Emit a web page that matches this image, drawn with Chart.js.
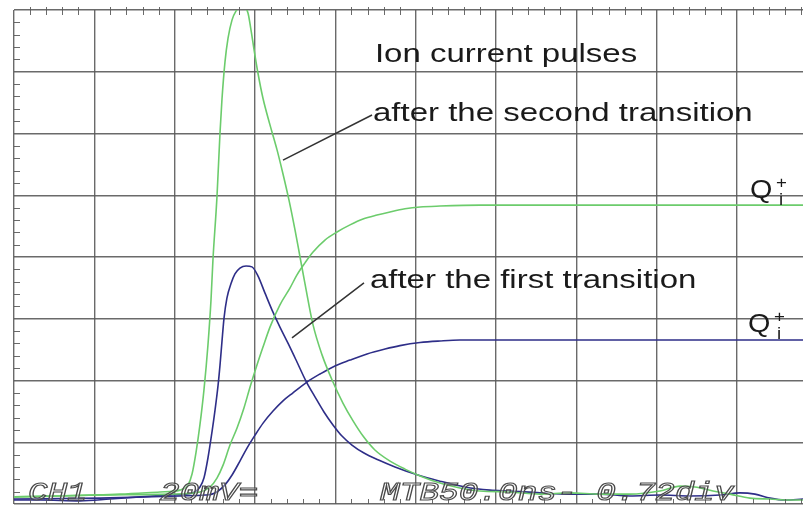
<!DOCTYPE html>
<html><head><meta charset="utf-8">
<script src="https://cdn.jsdelivr.net/npm/chart.js@4.4.1/dist/chart.umd.min.js"></script>
<style>html,body{margin:0;padding:0;background:#fff;overflow:hidden}</style>
</head><body>
<canvas id="c" width="803" height="506"></canvas>
<script>
// Oscilloscope: 50 ns/div horizontally, 20 mV/div vertically
const xTicks = [0, 50, 100, 150, 200, 250, 300, 350, 400, 450];
const yTicks = [0, 20, 40, 60, 80, 100, 120, 140, 160];

// Ion current pulse after the second transition (green)
const pulse2T = [0, 28.6, 66, 90.9, 103.3, 108.3, 110.8, 113.3, 115.7, 118.2, 120.7, 122.6, 123.8, 126.3, 128.2, 129.4, 131.3, 133.2, 135.7, 138.2, 140.6, 143.1, 145.6, 147.5, 149.4, 151.8, 154.9, 159.3, 163.7, 167.4, 171.1, 174.9, 178.0, 181.1, 186.1, 191.7, 198.5, 204.7, 211.0, 217.2, 224.6, 234.0, 243.3, 252.7, 265.1, 277.5, 290.0, 308.7, 327.3, 346.0, 364.7, 383.3, 402.0, 414.5, 423.8, 435.0, 445.6, 458.0, 470.5, 482.9, 491];
const pulse2V = [2.3, 2.6, 3.2, 3.9, 4.5, 6.2, 9.7, 16.8, 25.6, 36.9, 51.5, 66.1, 79.0, 99.4, 120.2, 130.9, 143.2, 150.9, 156.8, 159.7, 161.0, 161.0, 159.0, 153.5, 147.1, 139.6, 131.5, 122.8, 114.7, 106.9, 98.5, 88.7, 80.0, 71.3, 58.0, 48.3, 39.5, 32.7, 26.9, 22.0, 17.5, 13.9, 11.3, 9.1, 6.8, 5.2, 4.2, 3.9, 3.2, 3.6, 3.2, 3.2, 4.2, 5.8, 5.5, 4.2, 3.2, 1.9, 1.6, 1.3, 1.3];

// Ion current pulse after the first transition (blue)
const pulse1T = [0, 16.2, 41.1, 59.7, 78.4, 97.1, 106.4, 112.6, 115.7, 118.2, 120.7, 123.2, 125.1, 127.0, 128.2, 129.4, 130.7, 132.5, 135.0, 137.5, 140.6, 144.4, 148.1, 151.8, 156.2, 160.6, 165.5, 170.5, 176.1, 181.7, 187.3, 192.9, 198.5, 204.1, 210.3, 217.8, 226.5, 237.1, 249.5, 265.1, 280.7, 296.2, 308.7, 327.3, 346.0, 364.7, 383.3, 402.0, 420.7, 439.3, 451.8, 461.1, 470.5, 479.8, 491];
const pulse1V = [1.3, 1.3, 1.0, 1.6, 2.3, 2.9, 3.2, 3.9, 5.5, 8.4, 14.9, 23.3, 30.4, 38.5, 45.0, 52.5, 60.2, 66.7, 71.3, 74.5, 76.4, 77.1, 76.8, 73.9, 68.3, 62.8, 57.3, 52.1, 46.0, 39.8, 34.7, 29.8, 25.6, 22.0, 19.1, 16.5, 14.3, 12.0, 9.7, 7.4, 5.5, 4.5, 4.2, 3.6, 3.2, 3.2, 2.6, 2.9, 2.6, 2.9, 3.6, 3.2, 1.9, 1.3, 1.6];

// Integrated charge Q_i+ after the second transition (green)
const charge2T = [0, 53.5, 97.1, 115.7, 122, 126.3, 130.1, 134.4, 138.8, 143.1, 146.9, 151.2, 155, 159.3, 165.5, 171.8, 176.1, 181.1, 186.1, 193.5, 201, 209.1, 217.2, 225.9, 234, 243.3, 252.7, 265.1, 290, 364.7, 491];
const charge2V = [2.3, 2.9, 3.2, 3.9, 5.5, 8.4, 12.6, 19.1, 24.6, 31.1, 37.9, 45, 50.9, 57.3, 64.5, 70, 74.2, 78.1, 81.6, 85.5, 88.1, 90.4, 92.3, 93.6, 94.6, 95.6, 96.2, 96.5, 96.8, 96.8, 96.8];

// Integrated charge Q_i+ after the first transition (blue)
const charge1T = [0, 53.5, 103.3, 118.9, 123.2, 127.0, 131.3, 135.7, 140.6, 145.0, 150.0, 155.0, 161.2, 167.4, 173.6, 182.3, 190.4, 198.5, 209.1, 219.7, 230.9, 240.2, 252.7, 265.1, 277.5, 491];
const charge1V = [1.6, 1.9, 2.6, 2.9, 3.2, 4.2, 6.2, 9.4, 13.9, 18.1, 22.3, 26.2, 30.1, 33.4, 36.0, 39.5, 42.1, 44.4, 46.6, 48.6, 50.2, 51.3, 52.3, 52.8, 53.1, 53.1];

const zip = (t, v) => t.map((x, i) => ({x, y: v[i]}));
const GREEN = 'rgb(108,204,108)';
const BLUE = 'rgb(46,46,136)';

const scopePlugin = {
  id: 'scope',
  afterDraw(chart) {
    const {ctx, chartArea: a, scales: {x, y}} = chart;
    ctx.save();
    // minor ticks
    ctx.strokeStyle = 'rgba(90,90,90,0.9)';
    ctx.lineWidth = 1;
    ctx.beginPath();
    for (let t = 10; t < 491; t += 10) {
      if (t % 50 === 0) continue;
      const px = Math.round(x.getPixelForValue(t)) + 0.5;
      ctx.moveTo(px, a.top - 3); ctx.lineTo(px, a.top + 5);
      ctx.moveTo(px, a.bottom - 5); ctx.lineTo(px, a.bottom);
    }
    for (let v = 4; v < 160; v += 4) {
      if (v % 20 === 0) continue;
      const py = Math.round(y.getPixelForValue(v)) + 0.5;
      ctx.moveTo(a.left, py); ctx.lineTo(a.left + 6, py);
    }
    ctx.stroke();

    const txt = (s, t, v, font, sx, color, dx = 0, dy = 0) => {
      ctx.save();
      ctx.translate(x.getPixelForValue(t) + dx, y.getPixelForValue(v) + dy);
      ctx.scale(sx, 1);
      ctx.font = font;
      ctx.fillStyle = color;
      ctx.textBaseline = 'alphabetic';
      ctx.fillText(s, 0, 0);
      ctx.restore();
    };
    const F = '25px "Liberation Sans", Arial, sans-serif';
    txt('Ion current pulses', 224.6, 143.2, F, 1.32, '#1a1a1a');
    txt('after the second transition', 223.4, 124.1, F, 1.32, '#1a1a1a');
    txt('after the first transition', 221.5, 70.0, F, 1.32, '#1a1a1a');

    // leader lines
    ctx.strokeStyle = '#333';
    ctx.lineWidth = 1.5;
    ctx.beginPath();
    ctx.moveTo(x.getPixelForValue(167.4), y.getPixelForValue(111.4));
    ctx.lineTo(x.getPixelForValue(222.8), y.getPixelForValue(126.0));
    ctx.moveTo(x.getPixelForValue(173.0), y.getPixelForValue(53.8));
    ctx.lineTo(x.getPixelForValue(217.8), y.getPixelForValue(71.6));
    ctx.stroke();

    // Q_i^+ labels
    const q = (t, v) => {
      txt('Q', t, v, F, 1.15, '#1a1a1a');
      txt('+', t, v, '17px "Liberation Sans", Arial, sans-serif', 1.1, '#1a1a1a', 26, -10);
      txt('i', t, v, '17px "Liberation Sans", Arial, sans-serif', 1.1, '#1a1a1a', 29, 7);
    };
    q(458, 99.1);
    q(456.8, 55.7);

    // scope readout (outlined italic mono)
    const out = (s, t, v) => {
      ctx.save();
      ctx.translate(x.getPixelForValue(t), y.getPixelForValue(v));
      ctx.scale(1.26, 1);
      ctx.font = 'italic 26px "Liberation Mono", "DejaVu Sans Mono", monospace';
      ctx.fillStyle = 'rgba(255,255,255,0.35)';
      ctx.strokeStyle = '#4a4a4a';
      ctx.lineWidth = 1.1;
      ctx.fillText(s, 0, 0);
      ctx.strokeText(s, 0, 0);
      ctx.restore();
    };
    out('CH1', 8.7, 1.3);
    out('20mV=', 90.9, 1.3);
    out('MTB50.0ns- 0.72div', 227.8, 1.3);
    ctx.restore();
  }
};

new Chart(document.getElementById('c'), {
  type: 'line',
  data: {
    datasets: [
      {label: 'after the second transition', data: zip(pulse2T, pulse2V), borderColor: GREEN},
      {label: 'Q_i+ (second transition)', data: zip(charge2T, charge2V), borderColor: GREEN},
      {label: 'Q_i+ (first transition)', data: zip(charge1T, charge1V), borderColor: BLUE},
      {label: 'after the first transition', data: zip(pulse1T, pulse1V), borderColor: BLUE}
    ]
  },
  options: {
    responsive: false,
    animation: false,
    layout: {padding: {left: 14, top: 10, right: 0, bottom: 2}},
    elements: {
      point: {radius: 0},
      line: {borderWidth: 1.6, cubicInterpolationMode: 'monotone', fill: false}
    },
    plugins: {legend: {display: false}, tooltip: {enabled: false}},
    scales: {
      x: {
        type: 'linear', min: 0, max: 491,
        afterBuildTicks: s => { s.ticks = xTicks.map(v => ({value: v})); },
        ticks: {display: false},
        grid: {color: 'rgba(90,90,90,0.9)', lineWidth: 1.4, drawTicks: false},
        border: {display: false}
      },
      y: {
        type: 'linear', min: 0, max: 160,
        afterBuildTicks: s => { s.ticks = yTicks.map(v => ({value: v})); },
        ticks: {display: false},
        grid: {color: 'rgba(90,90,90,0.9)', lineWidth: 1.4, drawTicks: false},
        border: {display: false}
      }
    }
  },
  plugins: [scopePlugin]
});
</script>
</body></html>
